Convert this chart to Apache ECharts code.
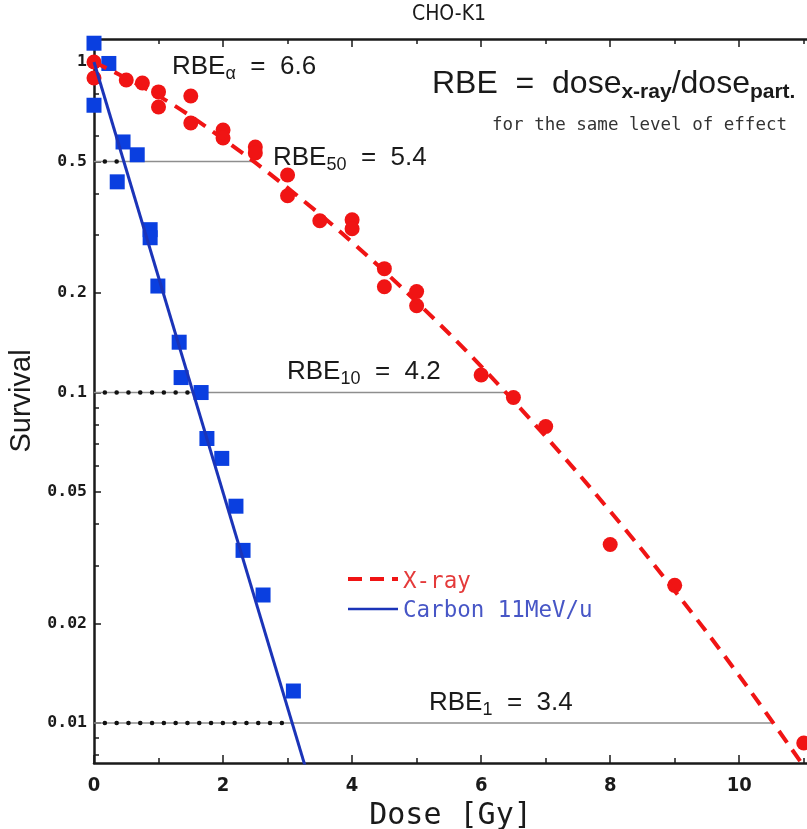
<!DOCTYPE html>
<html>
<head>
<meta charset="utf-8">
<script src="https://cdn.jsdelivr.net/npm/echarts@6/dist/echarts.min.js"></script>
<style>
  html, body { margin: 0; padding: 0; background: #fff; }
  #chart { width: 807px; height: 829px; }
</style>
</head>
<body>
<div id="chart"></div>
<script>
// ---- Measured survival of CHO-K1 cells ----
// X-ray irradiation (red circles): dose [Gy] and surviving fraction
const xrayDose = [0, 0, 0.5, 0.75, 1, 1, 1.5, 1.5, 2, 2, 2.5, 2.5, 3, 3, 3.5, 4, 4, 4.5, 4.5, 5, 5, 6, 6.5, 7, 8, 9, 11];
const xraySurv = [1.0, 0.895, 0.882, 0.864, 0.812, 0.731, 0.789, 0.654, 0.623, 0.589, 0.553, 0.531, 0.455, 0.394,
                  0.331, 0.333, 0.313, 0.237, 0.209, 0.202, 0.183, 0.113, 0.0966, 0.0789, 0.0347, 0.0261, 0.0087];

// Carbon ions 11 MeV/u (blue squares)
const carbonDose = [0, 0.23, 0, 0.45, 0.67, 0.36, 0.87, 0.87, 0.99, 1.32, 1.35, 1.66, 1.75, 1.98, 2.20, 2.31, 2.62, 3.09];
const carbonSurv = [1.14, 0.99, 0.74, 0.573, 0.524, 0.434, 0.311, 0.294, 0.21, 0.142, 0.111, 0.1, 0.0726, 0.0632,
                    0.0453, 0.0333, 0.0244, 0.0125];

// Fitted survival curves
const xrayFitDose = [0, 1, 2, 3, 4, 5, 6, 7, 8, 9, 10, 11];
const xrayFitSurv = [1.0, 0.79, 0.585, 0.416, 0.285, 0.188, 0.12, 0.0736, 0.0437, 0.0251, 0.0139, 0.0074];
const carbonFitDose = [0, 3.3];
const carbonFitSurv = [1.0, 0.0071];

// Iso-effect levels and the doses that reach them
const effectLevels = [0.5, 0.1, 0.01];
const effectCarbonDose = [0.46, 1.53, 3.07];
const effectXrayDose = [2.48, 6.38, 10.5];
const effectSubscripts = ['50', '10', '1'];
const effectRbe = ['5.4', '4.2', '3.4'];
const rbeAlpha = '6.6';

// Axis ticks
const survTicks = [0.01, 0.02, 0.05, 0.1, 0.2, 0.5, 1];
const survMinorTicks = [0.008, 0.009, 0.03, 0.04, 0.06, 0.07, 0.08, 0.09, 0.3, 0.4, 0.6, 0.8];
const doseTicks = [0, 2, 4, 6, 8, 10];
const doseMinorTicks = [1, 3, 5, 7, 9, 11];

// Survival is plotted on a log10 scale
const lg = v => Math.log10(v);
const pairs = (xs, ys) => xs.map((x, i) => [x, lg(ys[i])]);

const SANS = 'Liberation Sans, Arial, sans-serif';
const NARROW = 'Liberation Sans Narrow, DejaVu Sans Condensed, Liberation Sans, sans-serif';
const MONO = 'DejaVu Sans Mono, monospace';
const INK = '#1a1a1a';
const RED = '#f01414';
const BLUE = '#0a3fe0';
const BLUE_LINE = '#1b34b8';

const chart = echarts.init(document.getElementById('chart'), null, { renderer: 'canvas' });

function xAxisDef(pos, values, len, withLine, withLabels) {
  return {
    type: 'value', position: pos, min: 0, max: 11.05,
    axisLine: { show: withLine, onZero: false, lineStyle: { color: INK, width: 2.5 } },
    axisTick: { show: true, inside: true, length: len, customValues: values, lineStyle: { color: INK, width: 1.5 } },
    axisLabel: withLabels
      ? { show: true, customValues: values, margin: 13, fontFamily: NARROW, fontSize: 20, fontWeight: 'bold', color: INK }
      : { show: false },
    splitLine: { show: false },
    name: withLabels ? 'Dose [Gy]' : '',
    nameLocation: 'middle', nameGap: 33,
    nameTextStyle: { fontFamily: MONO, fontSize: 30, color: INK }
  };
}

function yAxisDef(values, len, withLine, withLabels) {
  return {
    type: 'value', position: 'left', min: lg(0.00757), max: lg(1.174),
    axisLine: { show: withLine, onZero: false, lineStyle: { color: INK, width: 2.5 } },
    axisTick: { show: true, inside: true, length: len, customValues: values.map(lg), lineStyle: { color: INK, width: 1.5 } },
    axisLabel: withLabels ? {
      show: true, customValues: values.map(lg), margin: 7,
      fontFamily: MONO, fontSize: 16.5, fontWeight: 'bold', color: INK,
      formatter: v => {
        const t = survTicks.find(s => Math.abs(lg(s) - v) < 1e-6);
        return t === undefined ? '' : String(t);
      }
    } : { show: false },
    splitLine: { show: false },
    name: withLabels ? 'Survival' : '',
    nameLocation: 'middle', nameGap: 49,
    nameTextStyle: { fontFamily: SANS, fontSize: 29, color: INK }
  };
}

// Horizontal iso-effect guides: grey to the X-ray curve, dotted to the carbon curve
const guideSeries = effectLevels.map((lvl, i) => ({
  type: 'line', name: 'guide' + i, z: 1, silent: true, symbol: 'none',
  data: [[0, lg(lvl)], [effectXrayDose[i], lg(lvl)]],
  lineStyle: { color: '#8e8e8e', width: 1.6 }
}));
const dotSeries = effectLevels.map((lvl, i) => ({
  type: 'line', name: 'dots' + i, z: 2, silent: true, symbol: 'none',
  data: [[0, lg(lvl)], [effectCarbonDose[i], lg(lvl)]],
  lineStyle: { color: '#111', width: 4.5, type: [0.1, 11.7], dashOffset: 1, cap: 'round' }
}));

const rich = (main, sub) => ({
  m: { fontFamily: SANS, fontSize: main, lineHeight: main + 6, fill: INK },
  s: { fontFamily: SANS, fontSize: sub, lineHeight: sub, verticalAlign: 'bottom', fill: INK }
});

function rbeLabel(sub, val, x, y) {
  return {
    type: 'text', x, y, z: 10,
    style: {
      text: `{m|RBE}{s|${sub}}{m|  =  ${val}}`,
      rich: rich(26, 18), verticalAlign: 'middle', align: 'left'
    }
  };
}

const rbeLabelPos = [[273, 158], [287, 372], [429, 703]];

const graphics = [
  { type: 'text', x: 449, y: 15, style: { text: 'CHO-K1', fontFamily: NARROW, fontSize: 21, fill: INK, align: 'center', verticalAlign: 'middle' } },
  rbeLabel('α', rbeAlpha, 172, 67),
  ...effectSubscripts.map((s, i) => rbeLabel(s, effectRbe[i], rbeLabelPos[i][0], rbeLabelPos[i][1])),
  {
    type: 'text', x: 432, y: 84, z: 10,
    style: {
      text: '{m|RBE  =  dose}{s|x-ray}{m|/dose}{s|part.}',
      rich: {
        m: { fontFamily: SANS, fontSize: 32, lineHeight: 37, fill: INK },
        s: { fontFamily: SANS, fontSize: 21, fontWeight: 'bold', lineHeight: 23, verticalAlign: 'bottom', fill: INK }
      },
      verticalAlign: 'middle', align: 'left'
    }
  },
  { type: 'text', x: 492, y: 125, z: 10, style: { text: 'for the same level of effect', fontFamily: MONO, fontSize: 17.5, fill: '#333', align: 'left', verticalAlign: 'middle' } },
  // legend
  { type: 'line', z: 10, shape: { x1: 348, y1: 579, x2: 398, y2: 579 }, style: { stroke: RED, lineWidth: 4, lineDash: [14, 8] } },
  { type: 'line', z: 10, shape: { x1: 348, y1: 609, x2: 398, y2: 609 }, style: { stroke: BLUE_LINE, lineWidth: 2.5 } },
  { type: 'text', x: 403, y: 582, z: 10, style: { text: 'X-ray', fontFamily: MONO, fontSize: 22.5, fill: '#e43a3a', align: 'left', verticalAlign: 'middle' } },
  { type: 'text', x: 403, y: 611, z: 10, style: { text: 'Carbon 11MeV/u', fontFamily: MONO, fontSize: 22.5, fill: '#4756c6', align: 'left', verticalAlign: 'middle' } }
];

const option = {
  animation: false,
  backgroundColor: '#fff',
  grid: { left: 94, right: 0, top: 39, bottom: 66, containLabel: false, outerBoundsMode: 'none' },
  xAxis: [
    xAxisDef('bottom', doseTicks, 8, true, true),
    xAxisDef('bottom', doseMinorTicks, 5, false, false),
    xAxisDef('top', doseTicks, 8, true, false),
    xAxisDef('top', doseMinorTicks, 5, false, false)
  ],
  yAxis: [
    yAxisDef(survTicks, 7, true, true),
    yAxisDef(survMinorTicks, 5, false, false)
  ],
  series: [
    ...guideSeries,
    ...dotSeries,
    {
      type: 'scatter', name: 'X-ray data', z: 3, symbol: 'circle', symbolSize: 15,
      data: pairs(xrayDose, xraySurv), itemStyle: { color: RED, opacity: 1 }
    },
    {
      type: 'scatter', name: 'Carbon data', z: 3, symbol: 'rect', symbolSize: 15,
      data: pairs(carbonDose, carbonSurv), itemStyle: { color: BLUE, opacity: 1 }
    },
    {
      type: 'line', name: 'X-ray', z: 4, symbol: 'none', smooth: 0.4,
      data: pairs(xrayFitDose, xrayFitSurv),
      lineStyle: { color: RED, width: 4, type: [14, 9] }
    },
    {
      type: 'line', name: 'Carbon 11MeV/u', z: 4, symbol: 'none',
      data: pairs(carbonFitDose, carbonFitSurv),
      lineStyle: { color: BLUE_LINE, width: 3 }
    }
  ],
  graphic: graphics
};

chart.setOption(option);
</script>
</body>
</html>
